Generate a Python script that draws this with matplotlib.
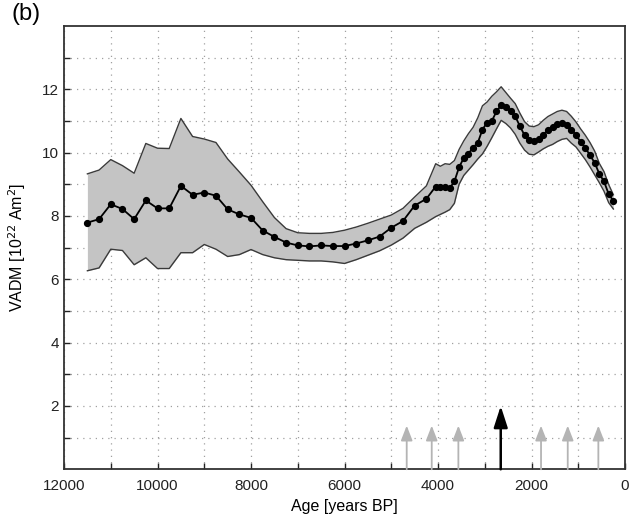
import matplotlib
matplotlib.use("Agg")
import matplotlib.pyplot as plt
from matplotlib.ticker import FixedLocator

plt.rcParams['font.family'] = ['Liberation Sans', 'DejaVu Sans']

# age of each point (years BP)
ages = [11500, 11250, 11000, 10750, 10500, 10250, 10000, 9750, 9500, 9250,
        9000, 8750, 8500, 8250, 8000, 7750, 7500, 7250, 7000, 6750,
        6500, 6250, 6000, 5750, 5500, 5250, 5000, 4750, 4500, 4250,
        4050, 3950, 3850, 3750, 3650, 3550, 3450, 3350, 3250, 3150,
        3050, 2950, 2850, 2750, 2650, 2550, 2450, 2350, 2250, 2150,
        2050, 1950, 1850, 1750, 1650, 1550, 1450, 1350, 1250, 1150,
        1050, 950, 850, 750, 650, 550, 450, 350, 250]
# VADM (10^22 Am^2)
vadm = [7.79, 7.90, 8.37, 8.22, 7.90, 8.49, 8.24, 8.24, 8.95, 8.67,
        8.74, 8.64, 8.21, 8.05, 7.94, 7.54, 7.34, 7.16, 7.07, 7.04,
        7.07, 7.05, 7.05, 7.13, 7.23, 7.35, 7.63, 7.84, 8.33, 8.54,
        8.93, 8.91, 8.92, 8.88, 9.09, 9.54, 9.83, 9.97, 10.16, 10.31,
        10.73, 10.95, 11.00, 11.30, 11.50, 11.43, 11.32, 11.15, 10.84, 10.55,
        10.40, 10.37, 10.43, 10.57, 10.71, 10.81, 10.89, 10.93, 10.87, 10.72,
        10.56, 10.34, 10.15, 9.92, 9.68, 9.33, 9.09, 8.69, 8.48]
vadm_upper = [9.33, 9.45, 9.78, 9.59, 9.35, 10.29, 10.14, 10.13, 11.08, 10.51,
              10.43, 10.32, 9.80, 9.39, 8.97, 8.45, 7.95, 7.60, 7.47, 7.45,
              7.45, 7.48, 7.55, 7.65, 7.77, 7.90, 8.03, 8.24, 8.60, 8.95,
              9.65, 9.57, 9.65, 9.63, 9.75, 10.10, 10.37, 10.60, 10.80, 11.10,
              11.48, 11.60, 11.78, 11.92, 12.08, 11.90, 11.72, 11.55, 11.25, 10.98,
              10.84, 10.82, 10.88, 11.02, 11.14, 11.22, 11.30, 11.34, 11.30, 11.15,
              10.97, 10.75, 10.55, 10.32, 10.05, 9.66, 9.40, 8.99, 8.67]
vadm_lower = [6.27, 6.36, 6.95, 6.91, 6.46, 6.68, 6.34, 6.34, 6.84, 6.84,
              7.10, 6.95, 6.72, 6.78, 6.94, 6.78, 6.68, 6.62, 6.60, 6.58,
              6.58, 6.55, 6.50, 6.62, 6.76, 6.90, 7.08, 7.30, 7.61, 7.80,
              7.98, 8.05, 8.12, 8.20, 8.40, 9.00, 9.28, 9.45, 9.62, 9.80,
              9.96, 10.20, 10.47, 10.75, 11.02, 10.92, 10.78, 10.58, 10.30, 10.08,
              9.95, 9.93, 10.02, 10.12, 10.20, 10.26, 10.35, 10.42, 10.45, 10.30,
              10.18, 9.98, 9.78, 9.55, 9.30, 9.05, 8.78, 8.42, 8.22]

# arrows marking events
event_ages = [4670, 4135, 3565, 1797, 1226, 571]
main_event_age = 2659

fig = plt.figure(figsize=(6.32, 5.27), dpi=100)
ax = fig.add_axes([0.1013, 0.1095, 0.8877, 0.8412])

ax.fill_between(ages, vadm_lower, vadm_upper, color='#c4c4c4', lw=0, zorder=2)
ax.plot(ages, vadm_upper, color='#3a3a3a', lw=1.0, zorder=3)
ax.plot(ages, vadm_lower, color='#3a3a3a', lw=1.0, zorder=3)
ax.plot(ages, vadm, color='black', lw=1.3, marker='o', markersize=4.2, zorder=4)

for a in event_ages:
    ax.annotate('', xy=(a, 1.38), xytext=(a, 0),
                arrowprops=dict(arrowstyle='-|>,head_length=0.9,head_width=0.35',
                                color='#b4b4b4', lw=1.3, shrinkA=0, shrinkB=0),
                zorder=3)
ax.annotate('', xy=(main_event_age, 2.0), xytext=(main_event_age, 0),
            arrowprops=dict(arrowstyle='-|>,head_length=1.3,head_width=0.42',
                            color='black', lw=1.8, shrinkA=0, shrinkB=0),
            zorder=3)

ax.set_xlim(12000, 0)
ax.set_ylim(0, 14)
ax.xaxis.set_major_locator(FixedLocator([12000, 10000, 8000, 6000, 4000, 2000, 0]))
ax.xaxis.set_minor_locator(FixedLocator([11000, 9000, 7000, 5000, 3000, 1000]))
ax.yaxis.set_major_locator(FixedLocator([2, 4, 6, 8, 10, 12]))
ax.yaxis.set_minor_locator(FixedLocator([1, 3, 5, 7, 9, 11, 13]))
ax.tick_params(which='both', direction='in', length=4, width=1, colors='#222222',
               labelsize=11, top=False, right=False)
ax.tick_params(axis='x', pad=7)
ax.grid(True, which='both', color='#a0a0a0', linestyle=(0, (1, 4)), lw=0.9, zorder=1)
for s in ax.spines.values():
    s.set_color('#333333')
    s.set_linewidth(1.3)

ax.set_xlabel('Age [years BP]', fontsize=11.5, labelpad=4)
ax.set_ylabel('VADM [10$^{22}$ Am$^{2}$]', fontsize=11.5, labelpad=10)
fig.text(0.018, 0.995, '(b)', fontsize=17, va='top', ha='left')

fig.savefig('out.png', dpi=100)
